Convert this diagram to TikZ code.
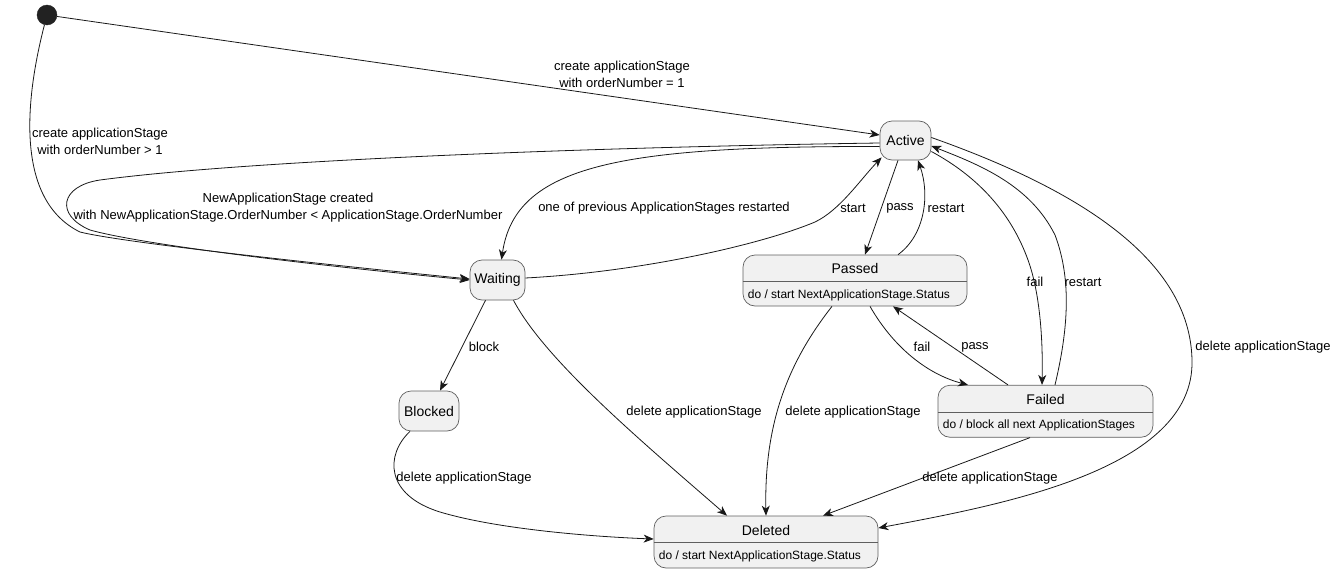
\documentclass[tikz,border=0pt]{standalone}
\usepackage{fontspec}
\setmainfont{Liberation Sans}
\usetikzlibrary{arrows.meta}
\definecolor{statefill}{HTML}{F1F1F1}
\definecolor{stateline}{HTML}{5F5F5F}
\definecolor{edgeline}{HTML}{181818}
\definecolor{startfill}{HTML}{222222}
\begin{document}
\begin{tikzpicture}[x=1pt,y=-1pt,
  state/.style={draw=stateline, fill=statefill, rounded corners=12pt, line width=0.7pt, inner sep=0pt, font=\fontsize{14}{16}\selectfont},
  divider/.style={draw=stateline, line width=0.7pt},
  title/.style={font=\fontsize{14}{16}\selectfont, inner sep=0pt},
  trans/.style={draw=edgeline, line width=0.8pt, -{Stealth[length=10pt,width=8pt,inset=3pt]}},
  lbl/.style={font=\fontsize{13}{17}\selectfont, align=center, inner sep=0pt, text=black},
  desc/.style={font=\fontsize{12}{14}\selectfont, anchor=west, inner sep=0pt}]

\useasboundingbox (0,0) rectangle (1336,573);

% states
\node[circle, fill=startfill, draw=startfill, minimum size=20pt, inner sep=0pt] (start) at (47,15) {};
\node[state, minimum width=51pt, minimum height=39pt] (active) at (905.5,140.5) {Active};
\node[state, minimum width=55pt, minimum height=40pt] (waiting) at (497.5,280) {Waiting};
\node[state, minimum width=60pt, minimum height=40pt] (blocked) at (429,411) {Blocked};

\node[state, minimum width=224pt, minimum height=51pt] (passed) at (855,280.5) {};
\draw[divider] ([yshift=-27pt]passed.north west) -- ([yshift=-27pt]passed.north east);
\node[title] (passedname) at ([yshift=-14pt]passed.north) {Passed};
\node[desc] (passeddo) at ([xshift=5pt,yshift=-14.5pt]passed.west) {do / start NextApplicationStage.Status};

\node[state, minimum width=215pt, minimum height=52pt] (failed) at (1045.5,411.25) {};
\draw[divider] ([yshift=-27pt]failed.north west) -- ([yshift=-27pt]failed.north east);
\node[title] (failedname) at ([yshift=-14.5pt]failed.north) {Failed};
\node[desc] (faileddo) at ([xshift=5pt,yshift=-13.75pt]failed.west) {do / block all next ApplicationStages};

\node[state, minimum width=224pt, minimum height=52pt] (deleted) at (766,542) {};
\draw[divider] ([yshift=-27pt]deleted.north west) -- ([yshift=-27pt]deleted.north east);
\node[title] (deletedname) at ([yshift=-15pt]deleted.north) {Deleted};
\node[desc] (deleteddo) at ([xshift=5pt,yshift=-14pt]deleted.west) {do / start NextApplicationStage.Status};

% transitions
\draw[trans] (start) -- ([yshift=5.5pt]active.west);
\draw[trans] (start) .. controls (25,100) and (15,200) .. (80,232)
  .. controls (120,242) and (300,262) .. ([yshift=1pt]waiting.west);
\draw[trans] ([yshift=-2.5pt]active.west) .. controls (600,147) and (250,160) .. (100,180)
  .. controls (60,186) and (55,215) .. (90,230)
  .. controls (140,244) and (300,264) .. (waiting.west);
\draw[trans] ([yshift=-6pt]active.west) .. controls (620,146) and (515,165) .. ([xshift=4pt]waiting.north);
\draw[trans] ([yshift=2pt]waiting.east) .. controls (640,272) and (760,245) .. (815,222)
  .. controls (840,210) and (860,180) .. ([xshift=2pt,yshift=3pt]active.south west);
\draw[trans] ([xshift=-7.5pt]active.south) -- ([xshift=10pt]passed.north);
\draw[trans] ([xshift=43pt]passed.north) .. controls (925,235) and (930,195) .. ([xshift=12.5pt]active.south);
\draw[trans] ([yshift=-11pt]active.east) .. controls (975,175) and (1010,210) .. (1028,260)
  .. controls (1040,293) and (1043,340) .. ([xshift=-3.5pt]failed.north);
\draw[trans] ([xshift=9.5pt]failed.north) .. controls (1068,330) and (1072,280) .. (1055,235)
  .. controls (1030,185) and (980,165) .. ([yshift=-5.5pt]active.east);
\draw[trans] ([yshift=3pt]active.east) .. controls (1080,190) and (1190,260) .. (1192,360)
  .. controls (1195,470) and (1000,505) .. ([yshift=14pt]deleted.east);
\draw[trans] ([xshift=-12pt]waiting.south) -- ([xshift=11pt]blocked.north);
\draw[trans] ([xshift=16pt]waiting.south) .. controls (545,360) and (640,440) .. ([xshift=-39pt]deleted.north);
\draw[trans] ([xshift=-23pt]passed.south) .. controls (790,360) and (764,420) .. (deleted.north);
\draw[trans] ([xshift=15pt]passed.south) .. controls (895,350) and (930,375) .. ([xshift=-77.5pt]failed.north);
\draw[trans] ([xshift=-37.5pt]failed.north) -- ([xshift=38pt]passed.south);
\draw[trans] ([xshift=-15.5pt]failed.south) -- ([xshift=57pt]deleted.north);
\draw[trans] ([xshift=-19pt]blocked.south) .. controls (385,455) and (385,495) .. (440,512)
  .. controls (500,530) and (600,537) .. ([yshift=3pt]deleted.west);

% transition labels
\node[lbl] (lcreate1) at (622,74) {create applicationStage\\with orderNumber = 1};
\node[lbl] (lcreate2) at (100,141) {create applicationStage\\with orderNumber > 1};
\node[lbl] (lnew) at (288,207.5) {NewApplicationStage created\\with NewApplicationStage.OrderNumber < ApplicationStage.OrderNumber};
\node[lbl] (lprev) at (664,208) {one of previous ApplicationStages restarted};
\node[lbl] (lstart) at (853,208) {start};
\node[lbl] (lpass1) at (900,208) {pass};
\node[lbl] (lrestart1) at (946,208) {restart};
\node[lbl] (lfail1) at (1035,282) {fail};
\node[lbl] (lrestart2) at (1083,282) {restart};
\node[lbl] (ldel1) at (1263,347) {delete applicationStage};
\node[lbl] (lblock) at (484,347) {block};
\node[lbl] (ldel2) at (694,412) {delete applicationStage};
\node[lbl] (ldel3) at (853,412) {delete applicationStage};
\node[lbl] (lfail2) at (922,347) {fail};
\node[lbl] (lpass2) at (975,347) {pass};
\node[lbl] (ldel4) at (990,478) {delete applicationStage};
\node[lbl] (ldel5) at (464,478) {delete applicationStage};
\end{tikzpicture}
\end{document}
